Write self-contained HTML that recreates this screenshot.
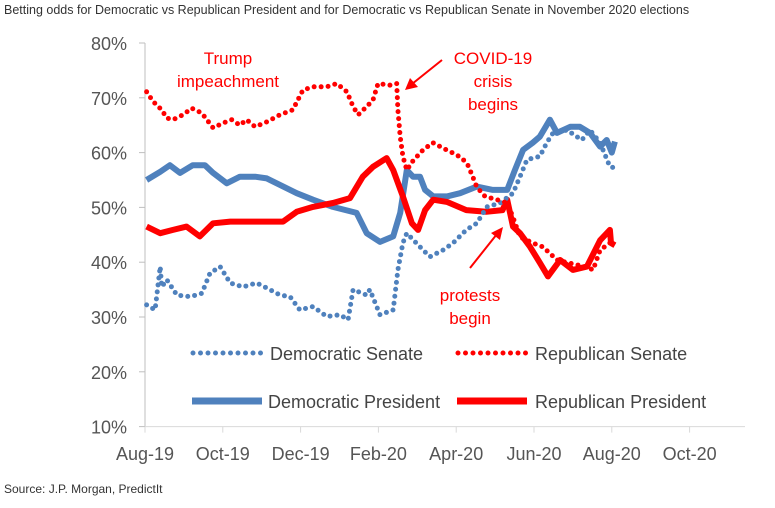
<!DOCTYPE html>
<html><head><meta charset="utf-8">
<style>
body{margin:0;background:#fff;width:775px;height:503px;overflow:hidden;font-family:"Liberation Sans",sans-serif}
</style></head>
<body>
<svg id="chart" width="775" height="503" xmlns="http://www.w3.org/2000/svg" font-family="Liberation Sans, sans-serif">
<text x="4" y="14" font-size="12.5" fill="#333">Betting odds for Democratic vs Republican President and for Democratic vs Republican Senate in November 2020 elections</text>
<text x="4" y="493" font-size="12" fill="#333">Source: J.P. Morgan, PredictIt</text>
<g id="axes"></g>
<g id="series"></g>
<g font-size="18" fill="#444">
 <line x1="193" y1="353" x2="262" y2="353" stroke="#4f81bd" stroke-width="5" stroke-linecap="round" stroke-dasharray="0 7.5"/>
 <text x="270" y="360">Democratic Senate</text>
 <line x1="458" y1="353" x2="527" y2="353" stroke="#ff0000" stroke-width="5" stroke-linecap="round" stroke-dasharray="0 7.5"/>
 <text x="535" y="360">Republican Senate</text>
 <line x1="192" y1="401" x2="262" y2="401" stroke="#4f81bd" stroke-width="7"/>
 <text x="268" y="408">Democratic President</text>
 <line x1="457" y1="401" x2="527" y2="401" stroke="#ff0000" stroke-width="7"/>
 <text x="535" y="408">Republican President</text>
</g>
<g font-size="17" fill="#ff0000" text-anchor="middle">
 <text x="228" y="64">Trump</text>
 <text x="228" y="87">impeachment</text>
 <text x="493" y="64">COVID-19</text>
 <text x="493" y="87">crisis</text>
 <text x="493" y="110">begins</text>
 <text x="470" y="301">protests</text>
 <text x="470" y="324">begin</text>
 <line x1="442" y1="60" x2="412" y2="84" stroke="#ff0000" stroke-width="2"/>
 <polygon points="405,90 410,78 418,87" fill="#ff0000"/>
 <line x1="470" y1="268" x2="497" y2="234" stroke="#ff0000" stroke-width="2"/>
 <polygon points="503,227 500,240 491,233" fill="#ff0000"/>
</g>
</svg>
<script>
const xTickLabels=["Aug-19","Oct-19","Dec-19","Feb-20","Apr-20","Jun-20","Aug-20","Oct-20"];
const yTickValues=[10,20,30,40,50,60,70,80];
// dates as months since 1 Aug 2019
const repSenateDates=[0.04,0.21,0.43,0.56,0.72,0.98,1.20,1.46,1.75,2.01,2.23,2.44,2.61,2.83,3.13,3.47,3.80,4.06,4.32,4.67,4.93,5.19,5.35,5.48,5.70,5.86,5.99,6.30,6.47,6.50,6.56,6.63,6.73,6.89,7.15,7.40,7.66,7.92,8.15,8.30,8.41,8.53,8.74,9.05,9.31,9.46,9.64,9.97,10.23,10.59,10.93,11.36,11.52,11.70,11.95,12.08];
const repSenateValues=[71.1,69.3,67.8,66.3,66,66.9,68.1,67.2,64.5,65.4,66,65,66,64.7,65.6,66.9,67.8,71.4,72,72,72.6,71.1,68.4,66.9,68.4,69.6,72.6,72.3,72.6,67.8,62.9,59.3,56.8,58.5,60.5,61.8,60.8,59.9,59,57.7,55.9,53.7,52,51.4,50.8,48.2,44.6,43.5,42.8,40.4,39.8,39.1,38.6,42.2,43.5,43];
const demSenateDates=[0.04,0.26,0.39,0.43,0.56,0.82,1.16,1.46,1.67,1.93,2.19,2.52,2.87,3.13,3.47,3.73,3.98,4.32,4.67,5.01,5.22,5.35,5.70,5.78,6.04,6.38,6.50,6.63,6.73,7.15,7.33,7.66,7.92,8.26,8.53,8.79,9.13,9.46,9.64,9.82,10.15,10.33,10.49,10.85,11.23,11.44,11.70,11.95,12.08];
const demSenateValues=[32.2,31.3,39.2,35.5,36.8,34,33.7,34.3,38,39.2,36.2,35.5,36.2,35.3,34,33.7,31.3,31.9,30.1,30.4,29.5,35,34,35,30.4,31.3,38.6,43.5,45.3,42.2,41,42.2,43.5,45.9,47.1,50.1,50.8,52.6,55.6,58.7,59.3,61.8,63.6,64.1,62.3,64.1,61.8,57.4,57.2];
const demPresDates=[0.04,0.39,0.64,0.90,1.23,1.54,1.75,2.10,2.44,2.83,3.13,3.47,3.90,4.32,4.83,5.44,5.70,6.04,6.38,6.56,6.73,6.89,7.07,7.20,7.41,7.76,8.10,8.53,8.94,9.31,9.51,9.72,9.97,10.15,10.41,10.59,10.93,11.18,11.44,11.70,11.87,12.00,12.08];
const demPresValues=[55,56.5,57.7,56.3,57.7,57.7,56.3,54.4,55.6,55.6,55.3,54.1,52.6,51.4,50.1,49,45.3,43.7,44.7,49,56.8,55.6,55.6,53.2,52,52,52.6,53.8,53.2,53.2,56.8,60.5,61.8,62.9,66,63.6,64.7,64.7,63.6,61.1,62.3,60,62];
const repPresDates=[0.04,0.39,0.72,1.07,1.41,1.75,2.19,2.61,3.13,3.55,3.90,4.32,4.83,5.27,5.60,5.86,6.21,6.38,6.63,6.86,7.02,7.20,7.41,7.76,8.26,8.77,9.19,9.31,9.46,9.64,9.90,10.15,10.36,10.67,11.00,11.36,11.70,11.95,11.98,12.08];
const repPresValues=[46.5,45.3,45.9,46.5,44.7,47.1,47.4,47.4,47.4,47.4,49.2,50.1,50.8,51.7,55.6,57.4,59,56.8,52,47.1,45.9,49.5,51.4,51,49.5,49.2,49.5,51.4,46.5,45.3,42.8,39.9,37.4,40.4,38.6,39.2,44,45.9,43.5,43.1];

const NS="http://www.w3.org/2000/svg";
const X0=145, PX_PER_MONTH=38.9;
function xScale(m){return X0+m*PX_PER_MONTH;}
function yScale(v){return 43+(80-v)*5.48;}
const axes=document.getElementById('axes');
const series=document.getElementById('series');
function mk(tag,attrs,parent){const e=document.createElementNS(NS,tag);for(const k in attrs)e.setAttribute(k,attrs[k]);parent.appendChild(e);return e;}

const ya=mk('line',{x1:X0,y1:yScale(80),x2:X0,y2:yScale(10),stroke:'#bfbfbf','stroke-width':1},axes);


const xa=mk('line',{x1:X0,y1:yScale(10),x2:745,y2:yScale(10),stroke:'#d9d9d9','stroke-width':1},axes);


yTickValues.forEach(v=>{
  const t=mk('line',{x1:X0-6,y1:yScale(v),x2:X0,y2:yScale(v),stroke:'#bfbfbf'},axes);
  
  
  const l=mk('text',{x:X0-18,y:yScale(v)+7,'text-anchor':'end','font-size':18,fill:'#555'},axes);
  l.textContent=v+'%';
  
  
});
xTickLabels.forEach((s,i)=>{
  const x=xScale(i*2);
  const t=mk('line',{x1:x,y1:yScale(10),x2:x,y2:yScale(10)+6,stroke:'#d9d9d9'},axes);
  
  
  const l=mk('text',{x:x,y:460,'text-anchor':'middle','font-size':18,fill:'#555'},axes);
  l.textContent=s;
  
  
});
function pts(d,v){return d.map((m,i)=>xScale(m).toFixed(1)+','+yScale(v[i]).toFixed(1)).join(' ');}
const p1=mk('polyline',{points:pts(demPresDates,demPresValues),fill:'none',stroke:'#4f81bd','stroke-width':6,'stroke-linejoin':'round'},series);


const p2=mk('polyline',{points:pts(repPresDates,repPresValues),fill:'none',stroke:'#ff0000','stroke-width':6,'stroke-linejoin':'round'},series);


const p3=mk('polyline',{points:pts(demSenateDates,demSenateValues),fill:'none',stroke:'#4f81bd','stroke-width':5,'stroke-linecap':'round','stroke-dasharray':'0 7'},series);


const p4=mk('polyline',{points:pts(repSenateDates,repSenateValues),fill:'none',stroke:'#ff0000','stroke-width':5,'stroke-linecap':'round','stroke-dasharray':'0 7'},series);


</script>
</body></html>
